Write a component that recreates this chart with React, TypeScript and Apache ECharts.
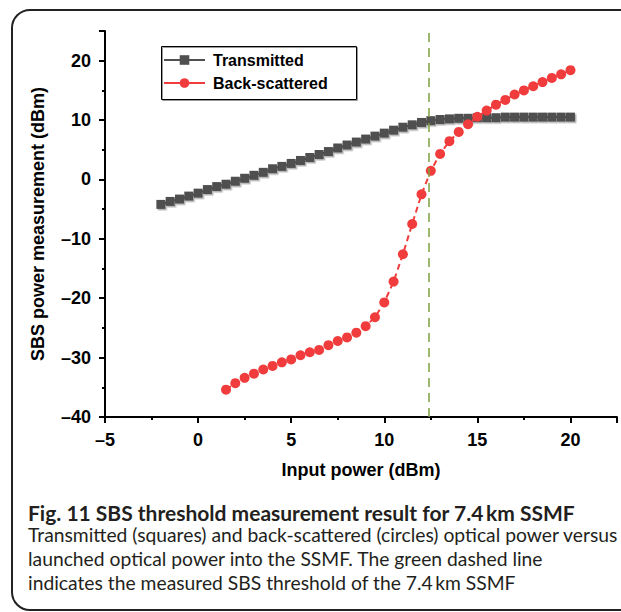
import React, { useEffect, useRef } from "react";
import * as echarts from "echarts";

// Input power (dBm) for each series
const transmittedX = [
  -2, -1.5, -1, -0.5, 0, 0.5, 1, 1.5, 2, 2.5, 3, 3.5, 4, 4.5, 5, 5.5, 6, 6.5, 7, 7.5, 8, 8.5,
  9, 9.5, 10, 10.5, 11, 11.5, 12, 12.5, 13, 13.5, 14, 14.5, 15, 15.5, 16, 16.5, 17, 17.5, 18,
  18.5, 19, 19.5, 20,
];
const transmittedY = [
  -4.2, -3.7, -3.3, -2.8, -2.3, -1.7, -1.2, -0.8, -0.3, 0.2, 0.7, 1.2, 1.8, 2.2, 2.7, 3.2, 3.7,
  4.2, 4.7, 5.3, 5.8, 6.3, 6.8, 7.3, 7.8, 8.3, 8.8, 9.2, 9.6, 9.9, 10.1, 10.2, 10.3, 10.3, 10.4,
  10.4, 10.4, 10.5, 10.5, 10.5, 10.5, 10.5, 10.5, 10.5, 10.5,
];
const backX = [
  1.5, 2, 2.5, 3, 3.5, 4, 4.5, 5, 5.5, 6, 6.5, 7, 7.5, 8, 8.5, 9, 9.5, 10, 10.5, 11, 11.5, 12,
  12.5, 13, 13.5, 14, 14.5, 15, 15.5, 16, 16.5, 17, 17.5, 18, 18.5, 19, 19.5, 20,
];
const backY = [
  -35.4, -34.3, -33.4, -32.7, -32.0, -31.4, -30.8, -30.3, -29.6, -29.1, -28.7, -27.9, -27.2,
  -26.6, -25.8, -24.7, -23.2, -20.7, -17.2, -12.6, -7.5, -2.5, 1.45, 4.3, 6.45, 8.0, 9.3, 10.56,
  11.6, 12.6, 13.4, 14.3, 15.0, 15.7, 16.4, 17.1, 17.7, 18.4,
];
const thresholdX = 12.4;

const seriesNames = ["Transmitted", "Back-scattered"];
const xAxisTitle = "Input power (dBm)";
const yAxisTitle = "SBS power measurement (dBm)";
const captionTitle = "Fig. 11 SBS threshold measurement result for 7.4\u2009km SSMF";
const captionLines = [
  "Transmitted (squares) and back-scattered (circles) optical power versus",
  "launched optical power into the SSMF. The green dashed line",
  "indicates the measured SBS threshold of the 7.4\u2009km SSMF",
];

const AX_FONT = "'Liberation Sans', Arial, Helvetica, sans-serif";
const CAP_FONT = "Lato, 'Open Sans', sans-serif";

const fmt = (v: number) => (v < 0 ? "\u2013" + Math.abs(v) : String(v));

export default function App() {
  const ref = useRef<HTMLDivElement>(null);
  useEffect(() => {
    document.body.style.margin = "0";
    if (!ref.current) return;
    const chart = echarts.init(ref.current, undefined, { renderer: "svg" });
    const black = "#000";
    const gray = "#505050";
    const red = "#f03c3c";
    const tickLabel = {
      color: black,
      fontWeight: "bold" as const,
      fontSize: 18,
      fontFamily: AX_FONT,
    };
    const nameStyle = {
      color: black,
      fontWeight: "bold" as const,
      fontSize: 18,
      fontFamily: AX_FONT,
    };
    chart.setOption({
      animation: false,
      backgroundColor: "#fff",
      grid: { left: 105, top: 31, right: 4, bottom: 195, containLabel: false },
      legend: {
        orient: "vertical",
        left: 163,
        top: 52,
        itemWidth: 41,
        itemHeight: 12,
        itemGap: 7,
        padding: 0,
        data: [
          { name: seriesNames[0] },
          { name: seriesNames[1], lineStyle: { type: "solid" } },
        ],
        textStyle: {
          color: black,
          fontWeight: "bold",
          fontSize: 16,
          fontFamily: AX_FONT,
          padding: [0, 0, 0, 3],
        },
      },
      xAxis: [
        {
          type: "value",
          min: -5,
          max: 22.5,
          interval: 2.5,
          axisLine: { onZero: false, lineStyle: { color: black, width: 2 } },
          axisTick: { length: 3, lineStyle: { color: black, width: 2 } },
          axisLabel: {
            ...tickLabel,
            margin: 14,
            formatter: (v: number) => (v % 5 === 0 && v <= 20 ? fmt(v) : ""),
          },
          splitLine: { show: false },
          name: xAxisTitle,
          nameLocation: "middle",
          nameGap: 44,
          nameTextStyle: nameStyle,
        },
        {
          type: "value",
          min: -5,
          max: 22.5,
          interval: 5,
          position: "bottom",
          axisLine: { show: false, onZero: false },
          axisTick: { length: 6, lineStyle: { color: black, width: 2 } },
          axisLabel: { show: false },
          splitLine: { show: false },
        },
      ],
      yAxis: [
        {
          type: "value",
          min: -40,
          max: 25,
          interval: 5,
          axisLine: { onZero: false, lineStyle: { color: black, width: 2 } },
          axisTick: { length: 3, lineStyle: { color: black, width: 2 } },
          axisLabel: {
            ...tickLabel,
            margin: 14,
            formatter: (v: number) => (v % 10 === 0 && v <= 20 ? fmt(v) : ""),
          },
          splitLine: { show: false },
          name: yAxisTitle,
          nameLocation: "middle",
          nameGap: 58,
          nameTextStyle: nameStyle,
        },
        {
          type: "value",
          min: -40,
          max: 25,
          interval: 10,
          position: "left",
          axisLine: { show: false, onZero: false },
          axisTick: { length: 6, lineStyle: { color: black, width: 2 } },
          axisLabel: { show: false },
          splitLine: { show: false },
        },
      ],
      series: [
        {
          name: seriesNames[0],
          type: "line",
          xAxisIndex: 0,
          yAxisIndex: 0,
          data: transmittedX.map((x, i) => [x, transmittedY[i]]),
          symbol: "rect",
          symbolSize: 9,
          color: gray,
          itemStyle: {
            color: gray,
            shadowColor: "rgba(0,0,0,0.3)",
            shadowOffsetX: 1.5,
            shadowOffsetY: 1.5,
            shadowBlur: 1,
          },
          lineStyle: { color: gray, width: 2 },
          z: 3,
        },
        {
          name: seriesNames[1],
          type: "line",
          xAxisIndex: 0,
          yAxisIndex: 0,
          data: backX.map((x, i) => [x, backY[i]]),
          symbol: "circle",
          symbolSize: 10,
          color: red,
          itemStyle: { color: red },
          lineStyle: { color: red, width: 2, type: [6, 4] },
          z: 4,
          markLine: {
            silent: true,
            symbol: ["none", "none"],
            label: { show: false },
            lineStyle: { color: "#7ea03f", type: [9, 6], width: 1.5 },
            data: [{ xAxis: thresholdX }],
          },
        },
      ],
      graphic: [
        {
          type: "rect",
          shape: { x: 12, y: 10, width: 700, height: 600, r: 18 },
          style: { fill: "rgba(0,0,0,0)", stroke: "#222", lineWidth: 2 },
          silent: true,
          z: 0,
        },
        {
          type: "rect",
          shape: { x: 162.5, y: 47.5, width: 195, height: 53 },
          style: { fill: "rgba(0,0,0,0)", stroke: "#999", lineWidth: 1 },
          silent: true,
          z: 1,
        },
        {
          type: "rect",
          shape: { x: 161.5, y: 46.5, width: 195, height: 53 },
          style: { fill: "rgba(0,0,0,0)", stroke: "#000", lineWidth: 1 },
          silent: true,
          z: 2,
        },
        {
          type: "text",
          x: 28,
          y: 512,
          style: {
            text: captionTitle,
            fill: "#231f20",
            fontSize: 21,
            fontWeight: "bold",
            fontFamily: CAP_FONT,
            verticalAlign: "middle",
          },
        },
        ...captionLines.map((t, i) => ({
          type: "text",
          x: 28,
          y: 534 + i * 24,
          style: {
            text: t,
            fill: "#231f20",
            fontSize: 19.3,
            fontFamily: CAP_FONT,
            verticalAlign: "middle",
          },
        })),
      ],
    });
    return () => chart.dispose();
  }, []);
  return (
    <div
      ref={ref}
      style={{ position: "absolute", left: 0, top: 0, width: 621, height: 612 }}
    />
  );
}
